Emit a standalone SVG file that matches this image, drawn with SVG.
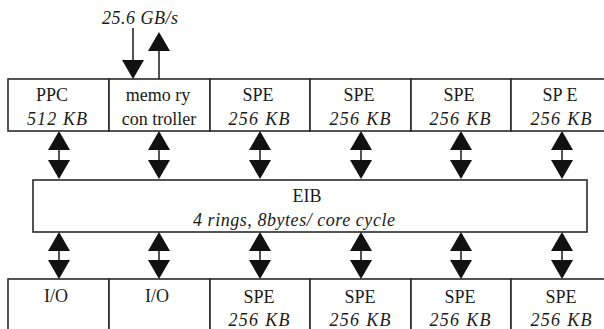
<svg xmlns="http://www.w3.org/2000/svg" xmlns:xlink="http://www.w3.org/1999/xlink" width="604" height="329" viewBox="0 0 604 329">
  <style>
    .box { fill: #ffffff; stroke: #2a2a2a; stroke-width: 1.6; }
    .t { font-family: "Liberation Serif", "Times New Roman", serif; font-size: 18px; fill: #1a1a1a; text-anchor: middle; }
    .i { font-style: italic; }
    .ln { stroke: #1a1a1a; stroke-width: 1.5; fill: none; }
    .hd { fill: #111111; }
  </style>
  <defs>
    <!-- arrowheads, tip at origin -->
    <path id="up" class="hd" d="M0,0 L11,19 L-11,19 Z"/>
    <path id="down" class="hd" d="M0,0 L11,-19 L-11,-19 Z"/>
  </defs>

  <rect width="604" height="329" fill="#ffffff"/>

  <!-- top row -->
  <g id="ppc">
    <rect class="box" x="8" y="79" width="101" height="52"/>
    <text class="t" x="52" y="101">PPC</text>
    <text class="t i" x="57" y="125" textLength="60" lengthAdjust="spacing">512 KB</text>
  </g>
  <g id="memory-controller">
    <rect class="box" x="109" y="79" width="101" height="52"/>
    <text class="t" x="158" y="101">memo ry</text>
    <text class="t" x="159" y="125">con troller</text>
  </g>
  <g id="spe-top-1">
    <rect class="box" x="210" y="79" width="100" height="52"/>
    <text class="t" x="258" y="101">SPE</text>
    <text class="t i" x="259" y="125" textLength="61" lengthAdjust="spacing">256 KB</text>
  </g>
  <g id="spe-top-2">
    <rect class="box" x="310" y="79" width="101" height="52"/>
    <text class="t" x="359" y="101">SPE</text>
    <text class="t i" x="360" y="125" textLength="61" lengthAdjust="spacing">256 KB</text>
  </g>
  <g id="spe-top-3">
    <rect class="box" x="411" y="79" width="100" height="52"/>
    <text class="t" x="459" y="101">SPE</text>
    <text class="t i" x="460" y="125" textLength="61" lengthAdjust="spacing">256 KB</text>
  </g>
  <g id="spe-top-4">
    <rect class="box" x="511" y="79" width="110" height="52"/>
    <text class="t" x="560" y="101">SP E</text>
    <text class="t i" x="561" y="125" textLength="61" lengthAdjust="spacing">256 KB</text>
  </g>

  <!-- element interconnect bus -->
  <g id="eib">
    <rect class="box" x="33" y="180" width="554" height="52"/>
    <text class="t" x="307" y="202">EIB</text>
    <text class="t i" x="294" y="226" textLength="202" lengthAdjust="spacing">4 rings, 8bytes/ core cycle</text>
  </g>

  <!-- bottom row -->
  <g id="io-1">
    <rect class="box" x="8" y="279" width="101" height="60"/>
    <text class="t" x="56" y="302">I/O</text>
  </g>
  <g id="io-2">
    <rect class="box" x="109" y="279" width="101" height="60"/>
    <text class="t" x="157" y="302">I/O</text>
  </g>
  <g id="spe-bottom-1">
    <rect class="box" x="210" y="279" width="100" height="60"/>
    <text class="t" x="259" y="303">SPE</text>
    <text class="t i" x="259" y="326" textLength="61" lengthAdjust="spacing">256 KB</text>
  </g>
  <g id="spe-bottom-2">
    <rect class="box" x="310" y="279" width="101" height="60"/>
    <text class="t" x="360" y="303">SPE</text>
    <text class="t i" x="360" y="326" textLength="61" lengthAdjust="spacing">256 KB</text>
  </g>
  <g id="spe-bottom-3">
    <rect class="box" x="411" y="279" width="100" height="60"/>
    <text class="t" x="460" y="303">SPE</text>
    <text class="t i" x="460" y="326" textLength="61" lengthAdjust="spacing">256 KB</text>
  </g>
  <g id="spe-bottom-4">
    <rect class="box" x="511" y="279" width="110" height="60"/>
    <text class="t" x="561" y="303">SPE</text>
    <text class="t i" x="561" y="326" textLength="61" lengthAdjust="spacing">256 KB</text>
  </g>

  <!-- off-chip bandwidth label -->
  <text class="t i" x="140" y="24" textLength="76" lengthAdjust="spacing">25.6 GB/s</text>

  <g id="connectors">
    <!-- memory interface: in and out -->
    <line class="ln" x1="133" y1="28" x2="133" y2="62"/>
    <use xlink:href="#down" x="133" y="79"/>
    <line class="ln" x1="159" y1="48" x2="159" y2="79"/>
    <use xlink:href="#up" x="159" y="32"/>

    <!-- top row <-> EIB -->
    <g>
      <line class="ln" x1="59" y1="145" x2="59" y2="165"/>
      <use xlink:href="#up" x="59" y="131"/><use xlink:href="#down" x="59" y="179"/>
      <line class="ln" x1="159" y1="145" x2="159" y2="165"/>
      <use xlink:href="#up" x="159" y="131"/><use xlink:href="#down" x="159" y="179"/>
      <line class="ln" x1="260" y1="145" x2="260" y2="165"/>
      <use xlink:href="#up" x="260" y="131"/><use xlink:href="#down" x="260" y="179"/>
      <line class="ln" x1="361" y1="145" x2="361" y2="165"/>
      <use xlink:href="#up" x="361" y="131"/><use xlink:href="#down" x="361" y="179"/>
      <line class="ln" x1="461" y1="145" x2="461" y2="165"/>
      <use xlink:href="#up" x="461" y="131"/><use xlink:href="#down" x="461" y="179"/>
      <line class="ln" x1="562" y1="145" x2="562" y2="165"/>
      <use xlink:href="#up" x="562" y="131"/><use xlink:href="#down" x="562" y="179"/>
    </g>

    <!-- EIB <-> bottom row -->
    <g>
      <line class="ln" x1="59" y1="246" x2="59" y2="265"/>
      <use xlink:href="#up" x="59" y="232"/><use xlink:href="#down" x="59" y="279"/>
      <line class="ln" x1="159" y1="246" x2="159" y2="265"/>
      <use xlink:href="#up" x="159" y="232"/><use xlink:href="#down" x="159" y="279"/>
      <line class="ln" x1="260" y1="246" x2="260" y2="265"/>
      <use xlink:href="#up" x="260" y="232"/><use xlink:href="#down" x="260" y="279"/>
      <line class="ln" x1="361" y1="246" x2="361" y2="265"/>
      <use xlink:href="#up" x="361" y="232"/><use xlink:href="#down" x="361" y="279"/>
      <line class="ln" x1="461" y1="246" x2="461" y2="265"/>
      <use xlink:href="#up" x="461" y="232"/><use xlink:href="#down" x="461" y="279"/>
      <line class="ln" x1="562" y1="246" x2="562" y2="265"/>
      <use xlink:href="#up" x="562" y="232"/><use xlink:href="#down" x="562" y="279"/>
    </g>
  </g>
</svg>
